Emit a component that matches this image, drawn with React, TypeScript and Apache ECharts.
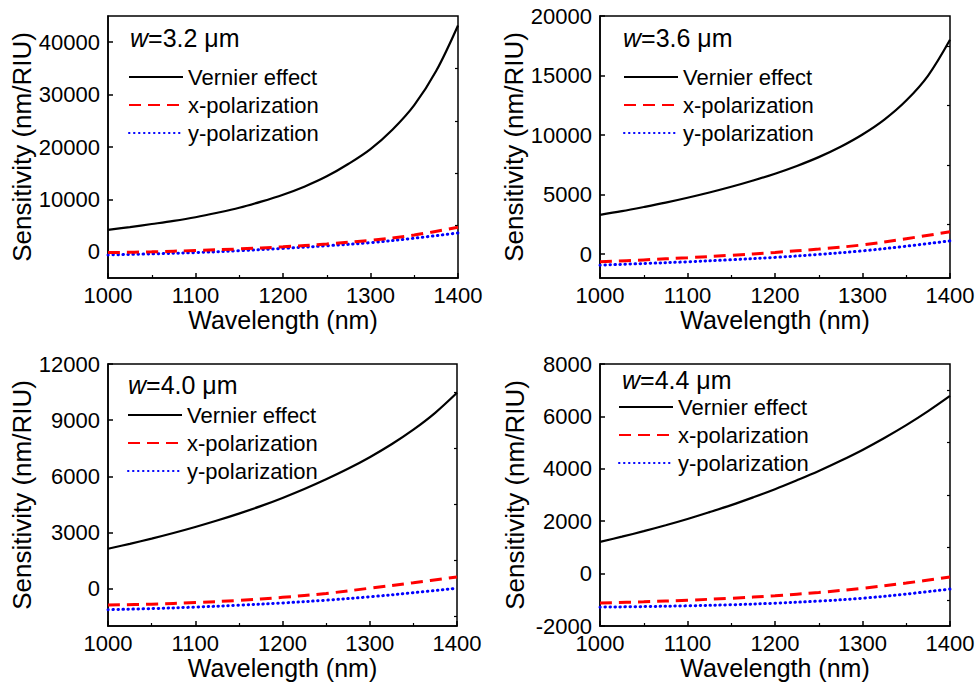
import React, { useEffect, useRef } from 'react';
import * as echarts from 'echarts';

// ---------- data ----------
const wavelengthsFine = [1000, 1025, 1050, 1075, 1100, 1125, 1150, 1175, 1200, 1225, 1250, 1275, 1300, 1325, 1350, 1375, 1400];
const wavelengthsCoarse = [1000, 1050, 1100, 1150, 1200, 1250, 1300, 1350, 1400];
const seriesNames = ['Vernier effect', 'x-polarization', 'y-polarization'];
const widthLabels = ['3.2', '3.6', '4.0', '4.4'];
const xTickValues = [1000, 1100, 1200, 1300, 1400];

// w = 3.2 um
const vernier32 = [4200, 4720, 5300, 5900, 6600, 7450, 8400, 9580, 10900, 12480, 14400, 16800, 19600, 23300, 28000, 34500, 43200];
const xpol32 = [-150, 0, 250, 550, 950, 1500, 2200, 3200, 4700];
const ypol32 = [-600, -400, -150, 200, 650, 1150, 1750, 2600, 3600];
const yMajor32 = [0, 10000, 20000, 30000, 40000];
const yMinor32 = [5000, 15000, 25000, 35000];

// w = 3.6 um
const vernier36 = [3300, 3610, 3960, 4330, 4740, 5180, 5660, 6190, 6760, 7410, 8150, 9020, 10050, 11300, 12900, 15000, 18000];
const xpol36 = [-640, -480, -300, -90, 150, 430, 780, 1300, 1880];
const ypol36 = [-920, -785, -640, -470, -270, -20, 280, 670, 1120];
const yMajor36 = [0, 5000, 10000, 15000, 20000];
const yMinor36 = [2500, 7500, 12500, 17500];

// w = 4.0 um
const vernier40 = [2130, 2390, 2670, 2970, 3292, 3637, 4007, 4405, 4845, 5320, 5840, 6400, 7020, 7710, 8490, 9390, 10460];
const xpol40 = [-880, -835, -750, -630, -470, -260, 20, 310, 620];
const ypol40 = [-1130, -1070, -990, -890, -770, -620, -440, -220, 20];
const yMajor40 = [0, 3000, 6000, 9000, 12000];
const yMinor40 = [-1500, 1500, 4500, 7500, 10500];

// w = 4.4 um
const vernier44 = [1210, 1410, 1620, 1845, 2085, 2345, 2615, 2910, 3220, 3560, 3915, 4305, 4720, 5175, 5665, 6200, 6780];
const xpol44 = [-1120, -1075, -1015, -940, -845, -720, -560, -360, -130];
const ypol44 = [-1280, -1260, -1230, -1190, -1130, -1050, -940, -780, -590];
const yMajor44 = [-2000, 0, 2000, 4000, 6000, 8000];
const yMinor44 = [-1000, 1000, 3000, 5000, 7000];

const yRanges = [
  [-5000, 45000],
  [-2000, 20000],
  [-2000, 12000],
  [-2000, 8000],
];

const panelsData = [
  { series: [vernier32, xpol32, ypol32], major: yMajor32, minor: yMinor32 },
  { series: [vernier36, xpol36, ypol36], major: yMajor36, minor: yMinor36 },
  { series: [vernier40, xpol40, ypol40], major: yMajor40, minor: yMinor40 },
  { series: [vernier44, xpol44, ypol44], major: yMajor44, minor: yMinor44 },
];

// ---------- layout / style ----------
const FONT = '"Liberation Sans", Arial, Helvetica, sans-serif';
const layout = [
  { left: 108, top: 16, width: 350, height: 262, legendLeft: 128, legendTop: 66, titleLeft: 130, titleTop: 25 },
  { left: 600, top: 16, width: 350, height: 262, legendLeft: 623, legendTop: 66, titleLeft: 623, titleTop: 25 },
  { left: 108, top: 364, width: 349, height: 262, legendLeft: 127, legendTop: 404, titleLeft: 128, titleTop: 372 },
  { left: 600, top: 364, width: 350, height: 262, legendLeft: 618, legendTop: 396, titleLeft: 622, titleTop: 367 },
];
const lineStyles = [
  { color: '#000000', width: 2.2, type: 'solid' as any, cap: 'butt' as any },
  { color: '#ff0000', width: 3, type: [12, 7] as any, cap: 'butt' as any },
  { color: '#0000ff', width: 3, type: [0.5, 4.5] as any, cap: 'round' as any },
];

function buildOption() {
  const grid: any[] = [];
  const xAxis: any[] = [];
  const yAxis: any[] = [];
  const series: any[] = [];
  const legend: any[] = [];
  const title: any[] = [];

  panelsData.forEach((p, i) => {
    const L = layout[i];
    grid.push({
      left: L.left,
      top: L.top,
      width: L.width,
      height: L.height,
      show: true,
      borderColor: '#000',
      borderWidth: 1.5,
      backgroundColor: 'transparent',
    });
    xAxis.push({
      type: 'value',
      gridIndex: i,
      min: 1000,
      max: 1400,
      interval: 100,
      name: 'Wavelength (nm)',
      nameLocation: 'middle',
      nameGap: 29,
      nameTextStyle: { fontSize: 25, color: '#000', fontFamily: FONT },
      axisLine: { show: true, onZero: false, lineStyle: { color: '#000', width: 1.5 } },
      axisTick: { show: true, inside: true, length: 5, lineStyle: { color: '#000', width: 1.5 } },
      minorTick: { show: true, splitNumber: 2, length: 3, lineStyle: { color: '#000', width: 1.2 } },
      axisLabel: {
        fontSize: 22,
        color: '#000',
        fontFamily: FONT,
        margin: 6,
        formatter: (v: number) => (xTickValues.includes(v) ? String(v) : ''),
      },
      splitLine: { show: false },
    });
    const [ymin, ymax] = yRanges[i];
    yAxis.push({
      type: 'value',
      gridIndex: i,
      min: ymin,
      max: ymax,
      name: 'Sensitivity (nm/RIU)',
      nameLocation: 'middle',
      nameGap: 72,
      nameTextStyle: { fontSize: 26, color: '#000', fontFamily: FONT },
      axisLine: { show: true, onZero: false, lineStyle: { color: '#000', width: 1.5 } },
      axisTick: {
        show: true,
        inside: true,
        length: 5,
        customValues: p.major,
        lineStyle: { color: '#000', width: 1.5 },
      },
      axisLabel: {
        fontSize: 22,
        color: '#000',
        fontFamily: FONT,
        margin: 8,
        customValues: p.major,
        formatter: (v: number) => String(v),
      },
      splitLine: { show: false },
    });
    yAxis.push({
      type: 'value',
      gridIndex: i,
      min: ymin,
      max: ymax,
      axisLine: { show: false, onZero: false },
      axisTick: {
        show: true,
        inside: true,
        length: 3,
        customValues: p.minor,
        lineStyle: { color: '#000', width: 1.2 },
      },
      axisLabel: { show: false, customValues: p.minor },
      splitLine: { show: false },
    });
    p.series.forEach((vals, k) => {
      const xs = k === 0 ? wavelengthsFine : wavelengthsCoarse;
      series.push({
        type: 'line',
        name: seriesNames[k],
        xAxisIndex: i,
        yAxisIndex: i * 2,
        data: xs.map((w, j) => [w, vals[j]]),
        symbol: 'none',
        showSymbol: false,
        smooth: 0.35,
        lineStyle: lineStyles[k],
        itemStyle: { color: lineStyles[k].color },
        z: 3 - k,
      });
    });
    legend.push({
      data: seriesNames,
      orient: 'vertical',
      left: L.legendLeft,
      top: L.legendTop,
      padding: 0,
      itemWidth: 54,
      itemHeight: 14,
      itemGap: 6,
      selectedMode: false,
      itemStyle: { opacity: 0 },
      textStyle: { fontSize: 22, color: '#000', fontFamily: FONT, lineHeight: 22 },
    });
    title.push({
      text: '{i|w}=' + widthLabels[i] + ' μm',
      left: L.titleLeft,
      top: L.titleTop,
      padding: 0,
      textStyle: {
        fontSize: 25,
        fontWeight: 'normal',
        color: '#000',
        fontFamily: FONT,
        rich: {
          i: { fontSize: 25, fontStyle: 'italic', color: '#000', fontFamily: FONT },
        },
      },
    });
  });

  return {
    animation: false,
    backgroundColor: '#ffffff',
    title,
    legend,
    grid,
    xAxis,
    yAxis,
    series,
  };
}

export default function App() {
  const ref = useRef<HTMLDivElement>(null);
  useEffect(() => {
    if (!ref.current) return;
    const chart = echarts.init(ref.current, undefined, { renderer: 'svg' });
    chart.setOption(buildOption() as any);
    return () => chart.dispose();
  }, []);
  return (
    <div
      ref={ref}
      style={{ position: 'fixed', left: 0, top: 0, width: 979, height: 684, background: '#fff' }}
    />
  );
}
